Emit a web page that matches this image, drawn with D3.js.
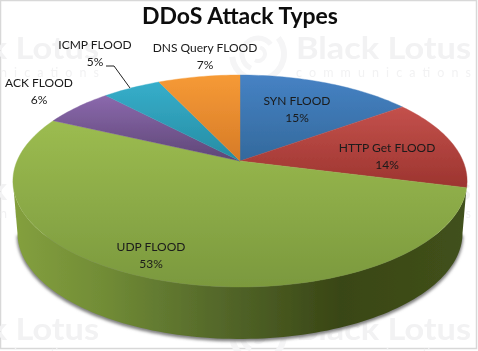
<!DOCTYPE html>
<html>
<head>
<meta charset="utf-8">
<script src="https://cdn.jsdelivr.net/npm/d3@7"></script>
<style>
html,body{margin:0;padding:0;background:#fff;}
svg{display:block;}
text{font-family:Lato,"Open Sans",sans-serif;}
</style>
</head>
<body>
<script>
var w = 478;
var h = 351;

// data, clockwise from 12 o'clock
var categories = ["SYN FLOOD","HTTP Get FLOOD","UDP FLOOD","ACK FLOOD","ICMP FLOOD","DNS Query FLOOD"];
var values = [15,14,53,6,5,7];
var colorsTop = ["#4682c4","#c4514c","#9cbc50","#8b69ad","#36aeca","#f69a36"];
var colorsBottom = ["#33699c","#9c342f","#7b993e","#5e4676","#268ca3","#d67b27"];

// label anchor points (first line baseline), same order as categories
var labelX = [297,387,151,39,95,205];
var labelY = [105,152,251,87,49,52];

// pie geometry: apex of the tilted pie and the perspective terms
var cx = 240, cy = 161;
var sx = 223, sy = 102.2, persp = -0.1887;
var depth = 52, bottomScale = 0.98;

function project(a, scale, dy){ //angle on the flat pie -> screen point
    var x = Math.sin(a), y = -Math.cos(a);
    var q = 1 + persp * y;
    return [cx + (scale || 1) * sx * x / q, cy + (dy || 0) + sy * y / q];
}

function sampleRim(a0, a1, scale, dy){
    var n = Math.max(2, Math.ceil(Math.abs(a1 - a0) * 40));
    return d3.range(n + 1).map(function(i){
        return project(a0 + (a1 - a0) * i / n, scale, dy);
    });
}

var line = d3.line();

var svg = d3.select("body").append("svg").attr("width",w).attr("height",h);
var defs = svg.append("defs");

defs.append("filter").attr("id","shadowBlur")
    .attr("x","-5%").attr("y","-5%").attr("width","110%").attr("height","110%")
    .append("feGaussianBlur").attr("stdDeviation",1.5);
defs.append("filter").attr("id","soft")
    .attr("filterUnits","userSpaceOnUse").attr("x",0).attr("y",0).attr("width",w).attr("height",h)
    .append("feGaussianBlur").attr("stdDeviation",0.35);

svg.append("rect").attr("x",0.5).attr("y",0.5).attr("width",w-2).attr("height",h-3)
    .attr("fill","#fff").attr("stroke","#d8d8d8").attr("stroke-width",1.5);

var chart = svg.append("g").attr("filter","url(#soft)");

// watermark tiles
var tileX = [-76,296];
var tileY = [59,200,340];
var mark = chart.append("g").attr("fill","#f2f2f3");
tileY.forEach(function(ty){
    tileX.forEach(function(tx){
        mark.append("text").attr("x",tx).attr("y",ty)
            .attr("font-family","Liberation Sans").attr("font-size",31).attr("font-weight",700)
            .attr("textLength",175).attr("lengthAdjust","spacingAndGlyphs")
            .text("Black Lotus");
        mark.append("text").attr("x",tx).attr("y",ty+18)
            .attr("font-family","Liberation Sans").attr("font-size",12.5).attr("textLength",175)
            .text("communications");
        // swirl logo
        [[26,0.9,4.6,6],[16,3.6,7.2,5],[7,0.3,3.6,4]].forEach(function(s){
            mark.append("path")
                .attr("transform","translate("+(tx-38)+","+(ty-5)+")")
                .attr("fill","#f5f5f6")
                .attr("d",d3.arc().innerRadius(s[0]-s[3]/2).outerRadius(s[0]+s[3]/2)
                    .startAngle(s[1]).endAngle(s[2])());
        });
    });
});

// rim widest points: cos(a) = persp, front of the pie runs between them
var rightA = Math.acos(persp), leftA = 2 * Math.PI - rightA;
var frontTop = sampleRim(rightA, leftA);
var frontBottom = sampleRim(leftA, rightA, bottomScale, depth);

chart.append("path")
    .attr("d",line(sampleRim(rightA, leftA, bottomScale + 0.003, depth + 2.5)) + "Z")
    .attr("fill","#808080").attr("filter","url(#shadowBlur)");

var sideGrad = defs.append("linearGradient").attr("id","sideGrad")
    .attr("gradientUnits","userSpaceOnUse")
    .attr("x1",13).attr("x2",467).attr("y1",0).attr("y2",0);
[[0,"#84a03e"],[0.2,"#718c36"],[0.45,"#54682a"],[0.72,"#394615"],[1,"#41511b"]].forEach(function(s){
    sideGrad.append("stop").attr("offset",s[0]).attr("stop-color",s[1]);
});

chart.append("path").attr("d",line(frontTop.concat(frontBottom)) + "Z").attr("fill","url(#sideGrad)");

// top face
var pie = d3.pie().sort(null)(values);

pie.forEach(function(d,i){
    var pts = [[cx,cy]].concat(sampleRim(d.startAngle, d.endAngle));
    var ys = pts.map(function(p){ return p[1]; });
    var g = defs.append("linearGradient").attr("id","slice"+i)
        .attr("gradientUnits","userSpaceOnUse")
        .attr("x1",0).attr("x2",0)
        .attr("y1",d3.min(ys)).attr("y2",d3.max(ys));
    g.append("stop").attr("offset",0).attr("stop-color",colorsTop[i]);
    g.append("stop").attr("offset",1).attr("stop-color",colorsBottom[i]);
    chart.append("path").attr("d",line(pts) + "Z")
        .attr("fill","url(#slice"+i+")")
        .attr("stroke","url(#slice"+i+")").attr("stroke-width",0.4);
});

// leader for ICMP
chart.append("path").attr("d","M106,66L114,66L130,88")
    .attr("fill","none").attr("stroke","#222").attr("stroke-width",1);

chart.append("text").attr("x",240).attr("y",24).attr("text-anchor","middle")
    .attr("font-size",23).attr("font-weight",700).attr("fill","#0a0a0a")
    .text("DDoS Attack Types");

categories.forEach(function(c,i){
    var t = chart.append("text").attr("text-anchor","middle").attr("font-size",12).attr("fill","#1a1a1a");
    t.append("tspan").attr("x",labelX[i]).attr("y",labelY[i]).text(c);
    t.append("tspan").attr("x",labelX[i]).attr("y",labelY[i]+16.5).text(values[i] + "%");
});
</script>
</body>
</html>
